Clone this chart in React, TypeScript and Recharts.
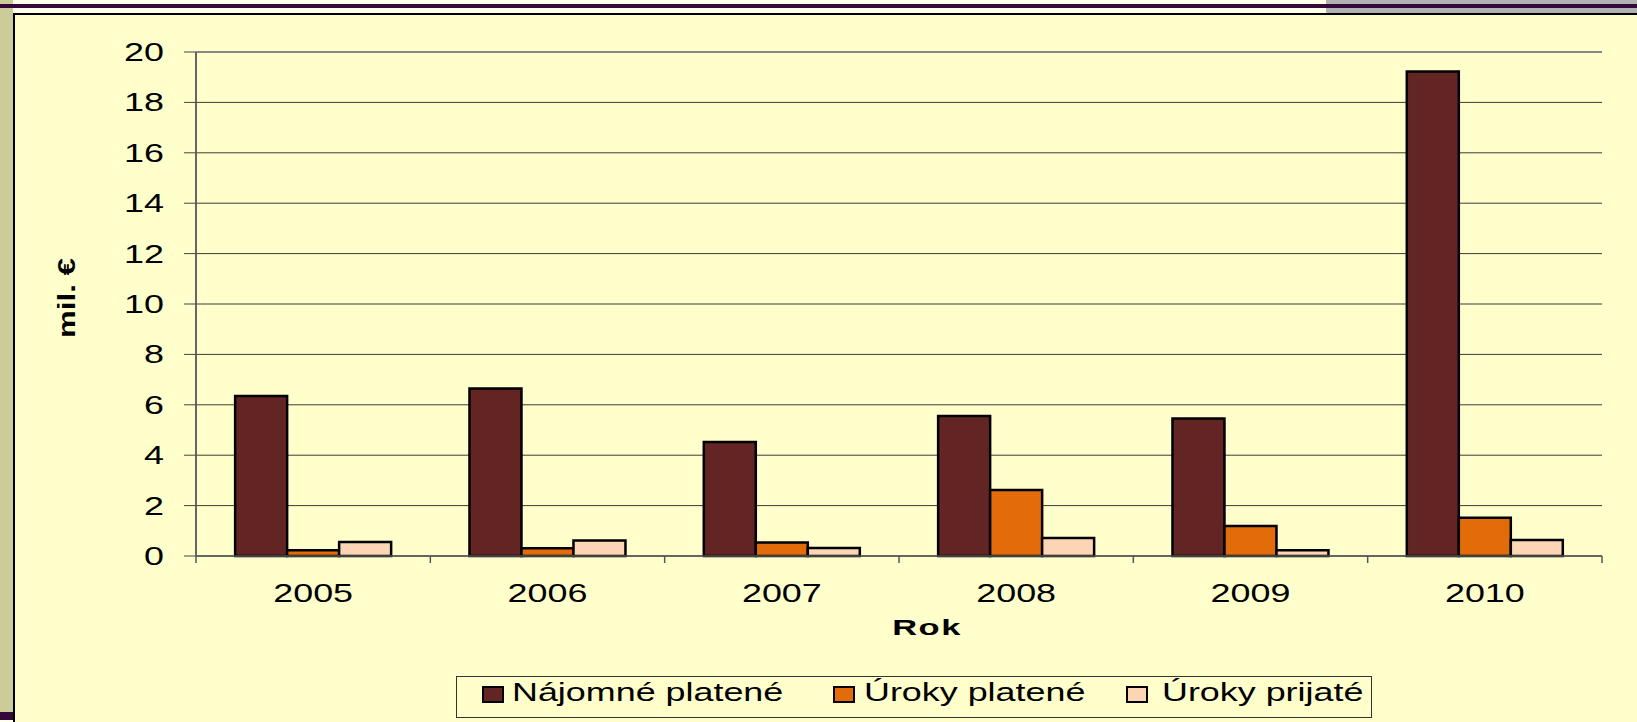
import React from 'react';
import { BarChart, Bar, XAxis, YAxis, CartesianGrid, ReferenceLine } from 'recharts';

const years = ['2005', '2006', '2007', '2008', '2009', '2010'];
const najomnePlatene = [6.35, 6.65, 4.52, 5.56, 5.46, 19.23];
const urokyPlatene = [0.23, 0.31, 0.54, 2.62, 1.19, 1.52];
const urokyPrijate = [0.56, 0.62, 0.32, 0.71, 0.23, 0.63];
const yTicks = [0, 2, 4, 6, 8, 10, 12, 14, 16, 18, 20];
const seriesNames = ['Nájomné platené', 'Úroky platené', 'Úroky prijaté'];
const seriesKeys = ['najomne', 'urokyPlat', 'urokyPrij'];
const seriesColors = ['#632523', '#E26B0A', '#FCD5B4'];
const yAxisTitle = 'mil. €';
const xAxisTitle = 'Rok';

const data = years.map((y, i) => ({
  year: y,
  najomne: najomnePlatene[i],
  urokyPlat: urokyPlatene[i],
  urokyPrij: urokyPrijate[i],
}));

const FONT = "'Liberation Sans', Arial, sans-serif";
const SX = 1.38;

const XTick = (props: any) => {
  const { x, y, payload, index, visibleTicksCount } = props;
  const off = payload && payload.offset != null ? payload.offset : 117;
  const axisY = y - 9;
  return (
    <g>
      <line x1={x - off} x2={x - off} y1={axisY} y2={axisY + 7} stroke="#555" strokeWidth={1.5} />
      {index === visibleTicksCount - 1 && (
        <line x1={x + off} x2={x + off} y1={axisY} y2={axisY + 7} stroke="#555" strokeWidth={1.5} />
      )}
      <g transform={`translate(${x},${axisY + 46}) scale(${SX},1)`}>
        <text x={0} y={0} textAnchor="middle" fontSize={26} fontFamily={FONT} fill="#000">
          {payload.value}
        </text>
      </g>
    </g>
  );
};

const YTick = (props: any) => {
  const { x, y, payload } = props;
  return (
    <g transform={`translate(${x},${y + 9}) scale(${SX},1)`}>
      <text x={0} y={0} textAnchor="end" fontSize={26} fontFamily={FONT} fill="#000">
        {payload.value}
      </text>
    </g>
  );
};

const YTitle = (props: any) => {
  const vb = props.viewBox || { x: 0, y: 52, width: 196, height: 504 };
  const cx = vb.x + 75;
  const cy = vb.y + vb.height / 2 - 6;
  return (
    <g transform={`translate(${cx},${cy}) rotate(-90) scale(1.3,1)`}>
      <text x={0} y={0} textAnchor="middle" fontSize={24} fontWeight="bold" fontFamily={FONT} fill="#000">
        {yAxisTitle}
      </text>
    </g>
  );
};

const XTitle = (props: any) => {
  const vb = props.viewBox || { x: 196, y: 556, width: 1406, height: 60 };
  const cx = vb.x + vb.width / 2 + 28;
  const cy = vb.y + 79;
  return (
    <g transform={`translate(${cx},${cy}) scale(1.5,1)`}>
      <text x={0} y={0} textAnchor="middle" fontSize={23} fontWeight="bold" letterSpacing={1} fontFamily={FONT} fill="#000">
        {xAxisTitle}
      </text>
    </g>
  );
};

const legendSwatchX = [482, 833, 1126];
const legendTextX = [512, 864, 1162];

export default function App() {
  return (
    <div style={{ position: 'absolute', left: 0, top: 0, width: 1637, height: 722, background: '#FFFFEA', overflow: 'hidden' }}>
      <div style={{ position: 'absolute', left: 0, top: 0, width: 13, height: 712, background: '#CCCC99' }} />
      <div style={{ position: 'absolute', left: 1326, top: 0, width: 311, height: 13, background: '#B2B2B2' }} />
      <div style={{ position: 'absolute', left: 0, top: 4, width: 1637, height: 4, background: '#35093A' }} />
      <div style={{ position: 'absolute', left: 0, top: 712, width: 13, height: 8, background: '#35093A' }} />
      <div
        style={{
          position: 'absolute',
          left: 13,
          top: 13,
          right: 0,
          bottom: 0,
          background: '#FFFFCC',
          borderLeft: '2px solid #000',
          borderTop: '2px solid #000',
        }}
      />
      <div style={{ position: 'absolute', left: 0, top: 0 }}>
        <BarChart
          width={1637}
          height={722}
          data={data}
          margin={{ top: 52, right: 35, left: 0, bottom: 106 }}
          barCategoryGap="16.7%"
          barGap={0}
        >
          <CartesianGrid horizontal={true} vertical={false} stroke="#3b3b3b" strokeWidth={1} />
          <XAxis
            dataKey="year"
            height={60}
            tickSize={7}
            tickMargin={2}
            tickLine={false}
            tick={<XTick />}
            axisLine={{ stroke: '#555', strokeWidth: 1.5 }}
            interval={0}
            label={{ content: (p: any) => <XTitle {...p} /> }}
          />
          <YAxis
            width={196}
            domain={[0, 20]}
            ticks={yTicks}
            interval={0}
            tickSize={12}
            tickMargin={20}
            tickLine={{ stroke: '#444', strokeWidth: 1 }}
            tick={<YTick />}
            axisLine={{ stroke: '#666', strokeWidth: 2 }}
            label={{ content: (p: any) => <YTitle {...p} /> }}
          />
          <YAxis
            yAxisId="right"
            orientation="right"
            width={0}
            domain={[0, 20]}
            tick={false}
            tickLine={false}
            axisLine={{ stroke: '#888', strokeWidth: 2.5 }}
          />
          <ReferenceLine y={20} stroke="#888" strokeWidth={2} />
          {seriesKeys.map((k, i) => (
            <Bar
              key={k}
              dataKey={k}
              name={seriesNames[i]}
              fill={seriesColors[i]}
              stroke="#000"
              strokeWidth={2.5}
              isAnimationActive={false}
            />
          ))}
        </BarChart>
      </div>
      <div
        style={{
          position: 'absolute',
          left: 456,
          top: 676,
          width: 914,
          height: 40,
          border: '1px solid #333',
          background: '#FFFFCC',
        }}
      />
      {seriesNames.map((n, i) => (
        <React.Fragment key={n}>
          <div
            style={{
              position: 'absolute',
              left: legendSwatchX[i],
              top: 686,
              width: 18,
              height: 13,
              background: seriesColors[i],
              border: '2px solid #000',
            }}
          />
          <div
            style={{
              position: 'absolute',
              left: legendTextX[i],
              top: 679,
              fontFamily: FONT,
              fontSize: 26,
              lineHeight: '26px',
              whiteSpace: 'nowrap',
              color: '#000',
              transform: `scale(${SX},1)`,
              transformOrigin: 'left top',
            }}
          >
            {n}
          </div>
        </React.Fragment>
      ))}
    </div>
  );
}
